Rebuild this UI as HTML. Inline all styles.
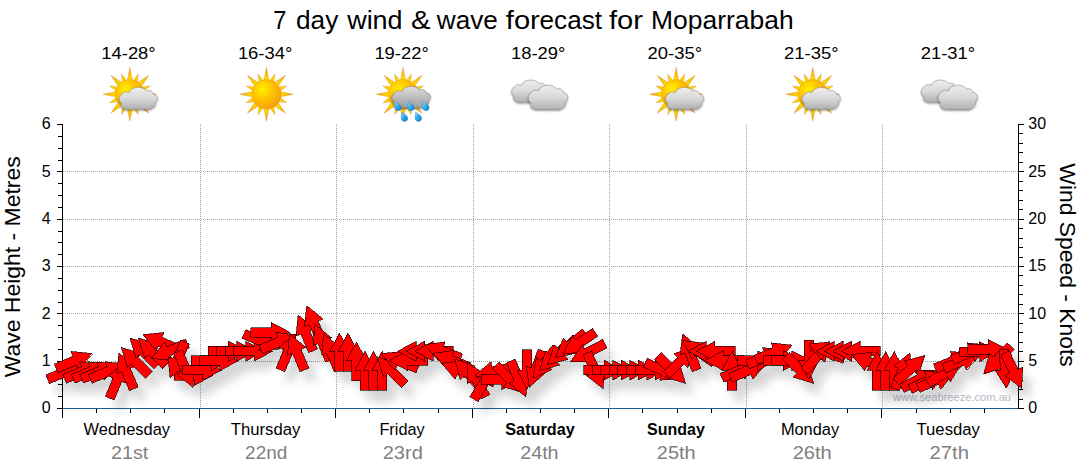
<!DOCTYPE html>
<html><head><meta charset="utf-8"><title>7 day wind &amp; wave forecast for Moparrabah</title>
<style>html,body{margin:0;padding:0;background:#fff;}body{width:1080px;height:475px;overflow:hidden;font-family:"Liberation Sans",sans-serif;}svg{display:block;position:absolute;left:0;top:0;}text{font-family:"Liberation Sans",sans-serif;}</style>
</head><body>
<svg width="1080" height="475" viewBox="0 0 1080 475">
<defs>
<radialGradient id="sunG" cx="0.36" cy="0.33" r="0.75"><stop offset="0" stop-color="#fff000"/><stop offset="0.45" stop-color="#ffc400"/><stop offset="1" stop-color="#f59a12"/></radialGradient>
<radialGradient id="rayG" gradientUnits="userSpaceOnUse" cx="0" cy="0" r="27"><stop offset="0.5" stop-color="#ffdc00"/><stop offset="0.75" stop-color="#fcc20a"/><stop offset="1" stop-color="#ef9a1a"/></radialGradient>
<linearGradient id="cloudG" x1="0" y1="0" x2="0" y2="1"><stop offset="0" stop-color="#eeeeee"/><stop offset="0.5" stop-color="#d9d9d9"/><stop offset="1" stop-color="#b0b0b0"/></linearGradient>
<linearGradient id="cloudD" x1="0" y1="0" x2="0" y2="1"><stop offset="0" stop-color="#dedede"/><stop offset="0.5" stop-color="#bebebe"/><stop offset="1" stop-color="#9a9a9a"/></linearGradient>
<linearGradient id="dropG" x1="0" y1="0" x2="1" y2="1"><stop offset="0" stop-color="#9fe0ff"/><stop offset="0.5" stop-color="#2fa8ea"/><stop offset="1" stop-color="#0a78c8"/></linearGradient>
<filter id="ash" x="-5%" y="-30%" width="110%" height="200%"><feGaussianBlur in="SourceAlpha" stdDeviation="5"/><feOffset dx="8" dy="11" result="b"/><feComponentTransfer><feFuncA type="linear" slope="0.17"/></feComponentTransfer><feMerge><feMergeNode/><feMergeNode in="SourceGraphic"/></feMerge></filter>
<filter id="ish" x="-20%" y="-20%" width="140%" height="150%"><feGaussianBlur in="SourceAlpha" stdDeviation="0.9"/><feOffset dx="0.4" dy="0.9"/><feComponentTransfer><feFuncA type="linear" slope="0.45"/></feComponentTransfer><feMerge><feMergeNode/><feMergeNode in="SourceGraphic"/></feMerge></filter>

<g id="sun"><path d="M-2.74,-13.52L0.00,-26.90L2.74,-13.52ZM3.05,-13.46L8.42,-20.33L7.36,-11.67ZM7.62,-11.50L19.02,-19.02L11.50,-7.62ZM11.67,-7.36L20.33,-8.42L13.46,-3.05ZM13.52,-2.74L26.90,0.00L13.52,2.74ZM13.46,3.05L20.33,8.42L11.67,7.36ZM11.50,7.62L19.02,19.02L7.62,11.50ZM7.36,11.67L8.42,20.33L3.05,13.46ZM2.74,13.52L0.00,26.90L-2.74,13.52ZM-3.05,13.46L-8.42,20.33L-7.36,11.67ZM-7.62,11.50L-19.02,19.02L-11.50,7.62ZM-11.67,7.36L-20.33,8.42L-13.46,3.05ZM-13.52,2.74L-26.90,0.00L-13.52,-2.74ZM-13.46,-3.05L-20.33,-8.42L-11.67,-7.36ZM-11.50,-7.62L-19.02,-19.02L-7.62,-11.50ZM-7.36,-11.67L-8.42,-20.33L-3.05,-13.46Z" fill="url(#rayG)" stroke="#c98a1c" stroke-width="0.4" stroke-opacity="0.75"/><circle cx="0" cy="0" r="14.7" fill="url(#sunG)" stroke="#e08d10" stroke-width="0.5" stroke-opacity="0.6"/></g>
<path id="cloud" d="M9,0 C4,0 1.2,-3.2 2.6,-7 C-0.6,-8.6 -0.8,-14.6 3.6,-17.2 C5.2,-19.6 8.4,-19.8 10.4,-18.4 C12.6,-25.6 24.6,-26.2 28.4,-20.4 C31.6,-21.6 34.8,-19.6 35.4,-16.8 C39.6,-16.6 41.2,-10.8 37.6,-8 C38.4,-4.2 35,-0.4 30.4,0 Z"/>
<path id="drop" d="M-2.6,-3.9 C-0.4,-3 2.9,-0.6 2.9,1.6 C2.9,3.4 1.5,4.3 0,4.3 C-1.7,4.3 -3,3 -3,1.4 C-3,-0.2 -2.9,-2.2 -2.6,-3.9 Z"/>
</defs>
<rect x="0" y="0" width="1080" height="475" fill="#ffffff"/>
<text x="273.3" y="29" font-size="25.4" text-anchor="start" fill="#000" font-weight="normal" textLength="13.2" lengthAdjust="spacingAndGlyphs">7</text>
<text x="296" y="29" font-size="25.4" text-anchor="start" fill="#000" font-weight="normal" textLength="42.3" lengthAdjust="spacingAndGlyphs">day</text>
<text x="347.2" y="29" font-size="25.4" text-anchor="start" fill="#000" font-weight="normal" textLength="55.4" lengthAdjust="spacingAndGlyphs">wind</text>
<text x="410.9" y="29" font-size="25.4" text-anchor="start" fill="#000" font-weight="normal" textLength="19.6" lengthAdjust="spacingAndGlyphs">&amp;</text>
<text x="436.8" y="29" font-size="25.4" text-anchor="start" fill="#000" font-weight="normal" textLength="61" lengthAdjust="spacingAndGlyphs">wave</text>
<text x="505.8" y="29" font-size="25.4" text-anchor="start" fill="#000" font-weight="normal" textLength="34" lengthAdjust="spacingAndGlyphs">for</text>
<text x="539.6" y="29" font-size="25.4" text-anchor="start" fill="#000" font-weight="normal" textLength="62.4" lengthAdjust="spacingAndGlyphs">ecast</text>
<text x="609" y="29" font-size="25.4" text-anchor="start" fill="#000" font-weight="normal" textLength="34" lengthAdjust="spacingAndGlyphs">for</text>
<text x="651" y="29" font-size="25.4" text-anchor="start" fill="#000" font-weight="normal" textLength="142.6" lengthAdjust="spacingAndGlyphs">Moparrabah</text>
<text x="128.5" y="59" font-size="17.4" text-anchor="middle" fill="#000" font-weight="normal" textLength="54.4" lengthAdjust="spacingAndGlyphs">14-28°</text>
<g transform="translate(129.89,94.3)">
<use href="#sun"/>
<g filter="url(#ish)"><use href="#cloud" transform="translate(-11.0,14.9) scale(0.975,0.895)" fill="url(#cloudG)" stroke="#858585" stroke-width="0.6" stroke-opacity="0.85"/></g>
</g>
<text x="265.1" y="59" font-size="17.4" text-anchor="middle" fill="#000" font-weight="normal" textLength="54.4" lengthAdjust="spacingAndGlyphs">16-34°</text>
<g transform="translate(266.46,94.3)">
<use href="#sun"/>
</g>
<text x="401.6" y="59" font-size="17.4" text-anchor="middle" fill="#000" font-weight="normal" textLength="54.4" lengthAdjust="spacingAndGlyphs">19-22°</text>
<g transform="translate(403.03,94.3)">
<use href="#sun"/>
<g filter="url(#ish)"><use href="#cloud" transform="translate(-11.4,13.5) scale(0.98,0.88)" fill="url(#cloudD)" stroke="#787878" stroke-width="0.6" stroke-opacity="0.85"/></g>
<use href="#drop" transform="translate(-5.0,11.7) scale(1.12)" fill="url(#dropG)" stroke="#0b5fa8" stroke-width="0.4" stroke-opacity="0.6"/>
<use href="#drop" transform="translate(8.0,11.7) scale(1.12)" fill="url(#dropG)" stroke="#0b5fa8" stroke-width="0.4" stroke-opacity="0.6"/>
<use href="#drop" transform="translate(22.9,11.7) scale(1.12)" fill="url(#dropG)" stroke="#0b5fa8" stroke-width="0.4" stroke-opacity="0.6"/>
<use href="#drop" transform="translate(1.5,22.3) scale(1.12)" fill="url(#dropG)" stroke="#0b5fa8" stroke-width="0.4" stroke-opacity="0.6"/>
<use href="#drop" transform="translate(15.4,22.3) scale(1.12)" fill="url(#dropG)" stroke="#0b5fa8" stroke-width="0.4" stroke-opacity="0.6"/>
</g>
<text x="538.2" y="59" font-size="17.4" text-anchor="middle" fill="#000" font-weight="normal" textLength="54.4" lengthAdjust="spacingAndGlyphs">18-29°</text>
<g transform="translate(539.60,94.3)">
<g filter="url(#ish)"><use href="#cloud" transform="translate(-28.2,8) scale(0.97,0.915)" fill="url(#cloudG)" stroke="#858585" stroke-width="0.6" stroke-opacity="0.85"/></g>
<g filter="url(#ish)"><use href="#cloud" x="-11.5" y="15.2" fill="url(#cloudG)" stroke="#858585" stroke-width="0.6" stroke-opacity="0.85"/></g>
</g>
<text x="674.8" y="59" font-size="17.4" text-anchor="middle" fill="#000" font-weight="normal" textLength="54.4" lengthAdjust="spacingAndGlyphs">20-35°</text>
<g transform="translate(676.17,94.3)">
<use href="#sun"/>
<g filter="url(#ish)"><use href="#cloud" transform="translate(-11.0,14.9) scale(0.975,0.895)" fill="url(#cloudG)" stroke="#858585" stroke-width="0.6" stroke-opacity="0.85"/></g>
</g>
<text x="811.3" y="59" font-size="17.4" text-anchor="middle" fill="#000" font-weight="normal" textLength="54.4" lengthAdjust="spacingAndGlyphs">21-35°</text>
<g transform="translate(812.74,94.3)">
<use href="#sun"/>
<g filter="url(#ish)"><use href="#cloud" transform="translate(-11.0,14.9) scale(0.975,0.895)" fill="url(#cloudG)" stroke="#858585" stroke-width="0.6" stroke-opacity="0.85"/></g>
</g>
<text x="947.9" y="59" font-size="17.4" text-anchor="middle" fill="#000" font-weight="normal" textLength="54.4" lengthAdjust="spacingAndGlyphs">21-31°</text>
<g transform="translate(949.31,94.3)">
<g filter="url(#ish)"><use href="#cloud" transform="translate(-28.2,8) scale(0.97,0.915)" fill="url(#cloudG)" stroke="#858585" stroke-width="0.6" stroke-opacity="0.85"/></g>
<g filter="url(#ish)"><use href="#cloud" x="-11.5" y="15.2" fill="url(#cloudG)" stroke="#858585" stroke-width="0.6" stroke-opacity="0.85"/></g>
</g>
<path d="M63,361.5H1018M63,313.5H1018M63,266.5H1018M63,219.5H1018M63,171.5H1018M200.5,124V408M336.5,124V408M473.5,124V408M609.5,124V408M746.5,124V408M882.5,124V408" stroke="#a2a2a2" stroke-width="1" stroke-dasharray="1,1" fill="none" shape-rendering="crispEdges"/>
<text x="893" y="401.1" font-size="11" text-anchor="start" fill="#b9b9c6" font-weight="normal" textLength="118" lengthAdjust="spacingAndGlyphs">www.seabreeze.com.au</text>
<path d="M63,408.5H1018" stroke="#1f5f8f" stroke-width="1.2" fill="none"/>
<path d="M62.5,124V418M1018.5,124V409M57,408.5H63M58,396.5H63M58,384.5H63M58,373.5H63M57,361.5H63M58,349.5H63M58,337.5H63M58,325.5H63M57,313.5H63M58,302.5H63M58,290.5H63M58,278.5H63M57,266.5H63M58,254.5H63M58,242.5H63M58,231.5H63M57,219.5H63M58,207.5H63M58,195.5H63M58,183.5H63M57,171.5H63M58,160.5H63M58,148.5H63M58,136.5H63M57,124.5H63M1018,408.5H1024M1018,399.5H1023M1018,389.5H1023M1018,380.5H1023M1018,370.5H1023M1018,361.5H1024M1018,351.5H1023M1018,342.5H1023M1018,332.5H1023M1018,323.5H1023M1018,313.5H1024M1018,304.5H1023M1018,294.5H1023M1018,285.5H1023M1018,275.5H1023M1018,266.5H1024M1018,257.5H1023M1018,247.5H1023M1018,238.5H1023M1018,228.5H1023M1018,219.5H1024M1018,209.5H1023M1018,200.5H1023M1018,190.5H1023M1018,181.5H1023M1018,171.5H1024M1018,162.5H1023M1018,152.5H1023M1018,143.5H1023M1018,133.5H1023M1018,124.5H1024M96.5,409V413M130.5,409V413M164.5,409V413M199.5,409V418M233.5,409V413M267.5,409V413M301.5,409V413M335.5,409V418M369.5,409V413M403.5,409V413M438.5,409V413M472.5,409V418M506.5,409V413M540.5,409V413M574.5,409V413M608.5,409V418M642.5,409V413M677.5,409V413M711.5,409V413M745.5,409V418M779.5,409V413M813.5,409V413M847.5,409V413M881.5,409V418M916.5,409V413M950.5,409V413M984.5,409V413" stroke="#000" stroke-width="1" fill="none" shape-rendering="crispEdges"/>
<g filter="url(#ash)">
<path transform="translate(66.27,371.55) rotate(67.5)" d="M0,-18.7L10,0L4.75,0L4.75,20.2L-4.75,20.2L-4.75,0L-10,0Z" fill="#ff0000" stroke="#000" stroke-width="0.6" stroke-linejoin="miter" shape-rendering="crispEdges"/>
<path transform="translate(74.80,360.67) rotate(67.5)" d="M0,-18.7L10,0L4.75,0L4.75,20.2L-4.75,20.2L-4.75,0L-10,0Z" fill="#ff0000" stroke="#000" stroke-width="0.6" stroke-linejoin="miter" shape-rendering="crispEdges"/>
<path transform="translate(83.34,371.08) rotate(67.5)" d="M0,-18.7L10,0L4.75,0L4.75,20.2L-4.75,20.2L-4.75,0L-10,0Z" fill="#ff0000" stroke="#000" stroke-width="0.6" stroke-linejoin="miter" shape-rendering="crispEdges"/>
<path transform="translate(91.88,371.08) rotate(67.5)" d="M0,-18.7L10,0L4.75,0L4.75,20.2L-4.75,20.2L-4.75,0L-10,0Z" fill="#ff0000" stroke="#000" stroke-width="0.6" stroke-linejoin="miter" shape-rendering="crispEdges"/>
<path transform="translate(100.41,371.08) rotate(67.5)" d="M0,-18.7L10,0L4.75,0L4.75,20.2L-4.75,20.2L-4.75,0L-10,0Z" fill="#ff0000" stroke="#000" stroke-width="0.6" stroke-linejoin="miter" shape-rendering="crispEdges"/>
<path transform="translate(108.95,371.08) rotate(67.5)" d="M0,-18.7L10,0L4.75,0L4.75,20.2L-4.75,20.2L-4.75,0L-10,0Z" fill="#ff0000" stroke="#000" stroke-width="0.6" stroke-linejoin="miter" shape-rendering="crispEdges"/>
<path transform="translate(117.48,379.60) rotate(22.5)" d="M0,-18.7L10,0L4.75,0L4.75,20.2L-4.75,20.2L-4.75,0L-10,0Z" fill="#ff0000" stroke="#000" stroke-width="0.6" stroke-linejoin="miter" shape-rendering="crispEdges"/>
<path transform="translate(126.02,370.13) rotate(337.5)" d="M0,-18.7L10,0L4.75,0L4.75,20.2L-4.75,20.2L-4.75,0L-10,0Z" fill="#ff0000" stroke="#000" stroke-width="0.6" stroke-linejoin="miter" shape-rendering="crispEdges"/>
<path transform="translate(134.55,360.67) rotate(315.0)" d="M0,-18.7L10,0L4.75,0L4.75,20.2L-4.75,20.2L-4.75,0L-10,0Z" fill="#ff0000" stroke="#000" stroke-width="0.6" stroke-linejoin="miter" shape-rendering="crispEdges"/>
<path transform="translate(143.09,351.20) rotate(315.0)" d="M0,-18.7L10,0L4.75,0L4.75,20.2L-4.75,20.2L-4.75,0L-10,0Z" fill="#ff0000" stroke="#000" stroke-width="0.6" stroke-linejoin="miter" shape-rendering="crispEdges"/>
<path transform="translate(151.62,351.20) rotate(315.0)" d="M0,-18.7L10,0L4.75,0L4.75,20.2L-4.75,20.2L-4.75,0L-10,0Z" fill="#ff0000" stroke="#000" stroke-width="0.6" stroke-linejoin="miter" shape-rendering="crispEdges"/>
<path transform="translate(160.16,341.73) rotate(292.5)" d="M0,-18.7L10,0L4.75,0L4.75,20.2L-4.75,20.2L-4.75,0L-10,0Z" fill="#ff0000" stroke="#000" stroke-width="0.6" stroke-linejoin="miter" shape-rendering="crispEdges"/>
<path transform="translate(168.70,351.20) rotate(247.5)" d="M0,-18.7L10,0L4.75,0L4.75,20.2L-4.75,20.2L-4.75,0L-10,0Z" fill="#ff0000" stroke="#000" stroke-width="0.6" stroke-linejoin="miter" shape-rendering="crispEdges"/>
<path transform="translate(194.30,375.43) rotate(90.0)" d="M0,-18.7L10,0L4.75,0L4.75,20.2L-4.75,20.2L-4.75,0L-10,0Z" fill="#ff0000" stroke="#000" stroke-width="0.6" stroke-linejoin="miter" shape-rendering="crispEdges"/>
<path transform="translate(177.23,360.67) rotate(202.5)" d="M0,-18.7L10,0L4.75,0L4.75,20.2L-4.75,20.2L-4.75,0L-10,0Z" fill="#ff0000" stroke="#000" stroke-width="0.6" stroke-linejoin="miter" shape-rendering="crispEdges"/>
<path transform="translate(185.77,370.13) rotate(157.5)" d="M0,-18.7L10,0L4.75,0L4.75,20.2L-4.75,20.2L-4.75,0L-10,0Z" fill="#ff0000" stroke="#000" stroke-width="0.6" stroke-linejoin="miter" shape-rendering="crispEdges"/>
<path transform="translate(202.84,370.13) rotate(90.0)" d="M0,-18.7L10,0L4.75,0L4.75,20.2L-4.75,20.2L-4.75,0L-10,0Z" fill="#ff0000" stroke="#000" stroke-width="0.6" stroke-linejoin="miter" shape-rendering="crispEdges"/>
<path transform="translate(211.38,360.67) rotate(90.0)" d="M0,-18.7L10,0L4.75,0L4.75,20.2L-4.75,20.2L-4.75,0L-10,0Z" fill="#ff0000" stroke="#000" stroke-width="0.6" stroke-linejoin="miter" shape-rendering="crispEdges"/>
<path transform="translate(219.91,360.67) rotate(90.0)" d="M0,-18.7L10,0L4.75,0L4.75,20.2L-4.75,20.2L-4.75,0L-10,0Z" fill="#ff0000" stroke="#000" stroke-width="0.6" stroke-linejoin="miter" shape-rendering="crispEdges"/>
<path transform="translate(228.45,351.20) rotate(90.0)" d="M0,-18.7L10,0L4.75,0L4.75,20.2L-4.75,20.2L-4.75,0L-10,0Z" fill="#ff0000" stroke="#000" stroke-width="0.6" stroke-linejoin="miter" shape-rendering="crispEdges"/>
<path transform="translate(236.98,351.20) rotate(90.0)" d="M0,-18.7L10,0L4.75,0L4.75,20.2L-4.75,20.2L-4.75,0L-10,0Z" fill="#ff0000" stroke="#000" stroke-width="0.6" stroke-linejoin="miter" shape-rendering="crispEdges"/>
<path transform="translate(245.52,351.20) rotate(90.0)" d="M0,-18.7L10,0L4.75,0L4.75,20.2L-4.75,20.2L-4.75,0L-10,0Z" fill="#ff0000" stroke="#000" stroke-width="0.6" stroke-linejoin="miter" shape-rendering="crispEdges"/>
<path transform="translate(254.05,351.20) rotate(90.0)" d="M0,-18.7L10,0L4.75,0L4.75,20.2L-4.75,20.2L-4.75,0L-10,0Z" fill="#ff0000" stroke="#000" stroke-width="0.6" stroke-linejoin="miter" shape-rendering="crispEdges"/>
<path transform="translate(262.59,341.73) rotate(112.5)" d="M0,-18.7L10,0L4.75,0L4.75,20.2L-4.75,20.2L-4.75,0L-10,0Z" fill="#ff0000" stroke="#000" stroke-width="0.6" stroke-linejoin="miter" shape-rendering="crispEdges"/>
<path transform="translate(271.12,332.27) rotate(90.0)" d="M0,-18.7L10,0L4.75,0L4.75,20.2L-4.75,20.2L-4.75,0L-10,0Z" fill="#ff0000" stroke="#000" stroke-width="0.6" stroke-linejoin="miter" shape-rendering="crispEdges"/>
<path transform="translate(279.66,341.73) rotate(67.5)" d="M0,-18.7L10,0L4.75,0L4.75,20.2L-4.75,20.2L-4.75,0L-10,0Z" fill="#ff0000" stroke="#000" stroke-width="0.6" stroke-linejoin="miter" shape-rendering="crispEdges"/>
<path transform="translate(288.20,351.20) rotate(22.5)" d="M0,-18.7L10,0L4.75,0L4.75,20.2L-4.75,20.2L-4.75,0L-10,0Z" fill="#ff0000" stroke="#000" stroke-width="0.6" stroke-linejoin="miter" shape-rendering="crispEdges"/>
<path transform="translate(296.73,351.20) rotate(337.5)" d="M0,-18.7L10,0L4.75,0L4.75,20.2L-4.75,20.2L-4.75,0L-10,0Z" fill="#ff0000" stroke="#000" stroke-width="0.6" stroke-linejoin="miter" shape-rendering="crispEdges"/>
<path transform="translate(305.27,332.27) rotate(337.5)" d="M0,-18.7L10,0L4.75,0L4.75,20.2L-4.75,20.2L-4.75,0L-10,0Z" fill="#ff0000" stroke="#000" stroke-width="0.6" stroke-linejoin="miter" shape-rendering="crispEdges"/>
<path transform="translate(313.80,322.80) rotate(337.5)" d="M0,-18.7L10,0L4.75,0L4.75,20.2L-4.75,20.2L-4.75,0L-10,0Z" fill="#ff0000" stroke="#000" stroke-width="0.6" stroke-linejoin="miter" shape-rendering="crispEdges"/>
<path transform="translate(322.34,341.73) rotate(337.5)" d="M0,-18.7L10,0L4.75,0L4.75,20.2L-4.75,20.2L-4.75,0L-10,0Z" fill="#ff0000" stroke="#000" stroke-width="0.6" stroke-linejoin="miter" shape-rendering="crispEdges"/>
<path transform="translate(330.88,351.20) rotate(337.5)" d="M0,-18.7L10,0L4.75,0L4.75,20.2L-4.75,20.2L-4.75,0L-10,0Z" fill="#ff0000" stroke="#000" stroke-width="0.6" stroke-linejoin="miter" shape-rendering="crispEdges"/>
<path transform="translate(339.41,351.20) rotate(0.0)" d="M0,-18.7L10,0L4.75,0L4.75,20.2L-4.75,20.2L-4.75,0L-10,0Z" fill="#ff0000" stroke="#000" stroke-width="0.6" stroke-linejoin="miter" shape-rendering="crispEdges"/>
<path transform="translate(347.95,351.20) rotate(0.0)" d="M0,-18.7L10,0L4.75,0L4.75,20.2L-4.75,20.2L-4.75,0L-10,0Z" fill="#ff0000" stroke="#000" stroke-width="0.6" stroke-linejoin="miter" shape-rendering="crispEdges"/>
<path transform="translate(356.48,360.67) rotate(0.0)" d="M0,-18.7L10,0L4.75,0L4.75,20.2L-4.75,20.2L-4.75,0L-10,0Z" fill="#ff0000" stroke="#000" stroke-width="0.6" stroke-linejoin="miter" shape-rendering="crispEdges"/>
<path transform="translate(365.02,370.13) rotate(0.0)" d="M0,-18.7L10,0L4.75,0L4.75,20.2L-4.75,20.2L-4.75,0L-10,0Z" fill="#ff0000" stroke="#000" stroke-width="0.6" stroke-linejoin="miter" shape-rendering="crispEdges"/>
<path transform="translate(373.55,370.13) rotate(0.0)" d="M0,-18.7L10,0L4.75,0L4.75,20.2L-4.75,20.2L-4.75,0L-10,0Z" fill="#ff0000" stroke="#000" stroke-width="0.6" stroke-linejoin="miter" shape-rendering="crispEdges"/>
<path transform="translate(382.09,370.13) rotate(0.0)" d="M0,-18.7L10,0L4.75,0L4.75,20.2L-4.75,20.2L-4.75,0L-10,0Z" fill="#ff0000" stroke="#000" stroke-width="0.6" stroke-linejoin="miter" shape-rendering="crispEdges"/>
<path transform="translate(390.62,370.13) rotate(315.0)" d="M0,-18.7L10,0L4.75,0L4.75,20.2L-4.75,20.2L-4.75,0L-10,0Z" fill="#ff0000" stroke="#000" stroke-width="0.6" stroke-linejoin="miter" shape-rendering="crispEdges"/>
<path transform="translate(399.16,360.67) rotate(292.5)" d="M0,-18.7L10,0L4.75,0L4.75,20.2L-4.75,20.2L-4.75,0L-10,0Z" fill="#ff0000" stroke="#000" stroke-width="0.6" stroke-linejoin="miter" shape-rendering="crispEdges"/>
<path transform="translate(407.70,360.67) rotate(270.0)" d="M0,-18.7L10,0L4.75,0L4.75,20.2L-4.75,20.2L-4.75,0L-10,0Z" fill="#ff0000" stroke="#000" stroke-width="0.6" stroke-linejoin="miter" shape-rendering="crispEdges"/>
<path transform="translate(416.23,351.20) rotate(270.0)" d="M0,-18.7L10,0L4.75,0L4.75,20.2L-4.75,20.2L-4.75,0L-10,0Z" fill="#ff0000" stroke="#000" stroke-width="0.6" stroke-linejoin="miter" shape-rendering="crispEdges"/>
<path transform="translate(424.77,351.20) rotate(270.0)" d="M0,-18.7L10,0L4.75,0L4.75,20.2L-4.75,20.2L-4.75,0L-10,0Z" fill="#ff0000" stroke="#000" stroke-width="0.6" stroke-linejoin="miter" shape-rendering="crispEdges"/>
<path transform="translate(433.30,351.20) rotate(270.0)" d="M0,-18.7L10,0L4.75,0L4.75,20.2L-4.75,20.2L-4.75,0L-10,0Z" fill="#ff0000" stroke="#000" stroke-width="0.6" stroke-linejoin="miter" shape-rendering="crispEdges"/>
<path transform="translate(441.84,351.20) rotate(290.0)" d="M0,-18.7L10,0L4.75,0L4.75,20.2L-4.75,20.2L-4.75,0L-10,0Z" fill="#ff0000" stroke="#000" stroke-width="0.6" stroke-linejoin="miter" shape-rendering="crispEdges"/>
<path transform="translate(450.38,359.91) rotate(291.0)" d="M0,-18.7L10,0L4.75,0L4.75,20.2L-4.75,20.2L-4.75,0L-10,0Z" fill="#ff0000" stroke="#000" stroke-width="0.6" stroke-linejoin="miter" shape-rendering="crispEdges"/>
<path transform="translate(458.91,370.13) rotate(291.6)" d="M0,-18.7L10,0L4.75,0L4.75,20.2L-4.75,20.2L-4.75,0L-10,0Z" fill="#ff0000" stroke="#000" stroke-width="0.6" stroke-linejoin="miter" shape-rendering="crispEdges"/>
<path transform="translate(467.45,372.78) rotate(317.6)" d="M0,-18.7L10,0L4.75,0L4.75,20.2L-4.75,20.2L-4.75,0L-10,0Z" fill="#ff0000" stroke="#000" stroke-width="0.6" stroke-linejoin="miter" shape-rendering="crispEdges"/>
<path transform="translate(475.98,378.84) rotate(332.2)" d="M0,-18.7L10,0L4.75,0L4.75,20.2L-4.75,20.2L-4.75,0L-10,0Z" fill="#ff0000" stroke="#000" stroke-width="0.6" stroke-linejoin="miter" shape-rendering="crispEdges"/>
<path transform="translate(484.52,381.97) rotate(31.6)" d="M0,-18.7L10,0L4.75,0L4.75,20.2L-4.75,20.2L-4.75,0L-10,0Z" fill="#ff0000" stroke="#000" stroke-width="0.6" stroke-linejoin="miter" shape-rendering="crispEdges"/>
<path transform="translate(493.05,371.55) rotate(257.6)" d="M0,-18.7L10,0L4.75,0L4.75,20.2L-4.75,20.2L-4.75,0L-10,0Z" fill="#ff0000" stroke="#000" stroke-width="0.6" stroke-linejoin="miter" shape-rendering="crispEdges"/>
<path transform="translate(501.59,379.60) rotate(90.0)" d="M0,-18.7L10,0L4.75,0L4.75,20.2L-4.75,20.2L-4.75,0L-10,0Z" fill="#ff0000" stroke="#000" stroke-width="0.6" stroke-linejoin="miter" shape-rendering="crispEdges"/>
<path transform="translate(510.12,379.60) rotate(135.0)" d="M0,-18.7L10,0L4.75,0L4.75,20.2L-4.75,20.2L-4.75,0L-10,0Z" fill="#ff0000" stroke="#000" stroke-width="0.6" stroke-linejoin="miter" shape-rendering="crispEdges"/>
<path transform="translate(518.66,379.60) rotate(157.5)" d="M0,-18.7L10,0L4.75,0L4.75,20.2L-4.75,20.2L-4.75,0L-10,0Z" fill="#ff0000" stroke="#000" stroke-width="0.6" stroke-linejoin="miter" shape-rendering="crispEdges"/>
<path transform="translate(527.20,370.13) rotate(180.0)" d="M0,-18.7L10,0L4.75,0L4.75,20.2L-4.75,20.2L-4.75,0L-10,0Z" fill="#ff0000" stroke="#000" stroke-width="0.6" stroke-linejoin="miter" shape-rendering="crispEdges"/>
<path transform="translate(535.73,369.75) rotate(200.0)" d="M0,-18.7L10,0L4.75,0L4.75,20.2L-4.75,20.2L-4.75,0L-10,0Z" fill="#ff0000" stroke="#000" stroke-width="0.6" stroke-linejoin="miter" shape-rendering="crispEdges"/>
<path transform="translate(544.27,363.51) rotate(218.0)" d="M0,-18.7L10,0L4.75,0L4.75,20.2L-4.75,20.2L-4.75,0L-10,0Z" fill="#ff0000" stroke="#000" stroke-width="0.6" stroke-linejoin="miter" shape-rendering="crispEdges"/>
<path transform="translate(552.80,357.83) rotate(226.0)" d="M0,-18.7L10,0L4.75,0L4.75,20.2L-4.75,20.2L-4.75,0L-10,0Z" fill="#ff0000" stroke="#000" stroke-width="0.6" stroke-linejoin="miter" shape-rendering="crispEdges"/>
<path transform="translate(561.34,352.15) rotate(228.0)" d="M0,-18.7L10,0L4.75,0L4.75,20.2L-4.75,20.2L-4.75,0L-10,0Z" fill="#ff0000" stroke="#000" stroke-width="0.6" stroke-linejoin="miter" shape-rendering="crispEdges"/>
<path transform="translate(569.88,345.52) rotate(230.0)" d="M0,-18.7L10,0L4.75,0L4.75,20.2L-4.75,20.2L-4.75,0L-10,0Z" fill="#ff0000" stroke="#000" stroke-width="0.6" stroke-linejoin="miter" shape-rendering="crispEdges"/>
<path transform="translate(578.41,343.63) rotate(236.0)" d="M0,-18.7L10,0L4.75,0L4.75,20.2L-4.75,20.2L-4.75,0L-10,0Z" fill="#ff0000" stroke="#000" stroke-width="0.6" stroke-linejoin="miter" shape-rendering="crispEdges"/>
<path transform="translate(586.95,353.09) rotate(242.0)" d="M0,-18.7L10,0L4.75,0L4.75,20.2L-4.75,20.2L-4.75,0L-10,0Z" fill="#ff0000" stroke="#000" stroke-width="0.6" stroke-linejoin="miter" shape-rendering="crispEdges"/>
<path transform="translate(595.48,371.55) rotate(156.0)" d="M0,-18.7L10,0L4.75,0L4.75,20.2L-4.75,20.2L-4.75,0L-10,0Z" fill="#ff0000" stroke="#000" stroke-width="0.6" stroke-linejoin="miter" shape-rendering="crispEdges"/>
<path transform="translate(604.02,370.13) rotate(90.0)" d="M0,-18.7L10,0L4.75,0L4.75,20.2L-4.75,20.2L-4.75,0L-10,0Z" fill="#ff0000" stroke="#000" stroke-width="0.6" stroke-linejoin="miter" shape-rendering="crispEdges"/>
<path transform="translate(612.55,370.13) rotate(90.0)" d="M0,-18.7L10,0L4.75,0L4.75,20.2L-4.75,20.2L-4.75,0L-10,0Z" fill="#ff0000" stroke="#000" stroke-width="0.6" stroke-linejoin="miter" shape-rendering="crispEdges"/>
<path transform="translate(621.09,370.13) rotate(90.0)" d="M0,-18.7L10,0L4.75,0L4.75,20.2L-4.75,20.2L-4.75,0L-10,0Z" fill="#ff0000" stroke="#000" stroke-width="0.6" stroke-linejoin="miter" shape-rendering="crispEdges"/>
<path transform="translate(629.62,370.13) rotate(90.0)" d="M0,-18.7L10,0L4.75,0L4.75,20.2L-4.75,20.2L-4.75,0L-10,0Z" fill="#ff0000" stroke="#000" stroke-width="0.6" stroke-linejoin="miter" shape-rendering="crispEdges"/>
<path transform="translate(638.16,370.13) rotate(90.0)" d="M0,-18.7L10,0L4.75,0L4.75,20.2L-4.75,20.2L-4.75,0L-10,0Z" fill="#ff0000" stroke="#000" stroke-width="0.6" stroke-linejoin="miter" shape-rendering="crispEdges"/>
<path transform="translate(646.70,370.13) rotate(90.0)" d="M0,-18.7L10,0L4.75,0L4.75,20.2L-4.75,20.2L-4.75,0L-10,0Z" fill="#ff0000" stroke="#000" stroke-width="0.6" stroke-linejoin="miter" shape-rendering="crispEdges"/>
<path transform="translate(655.23,370.13) rotate(90.0)" d="M0,-18.7L10,0L4.75,0L4.75,20.2L-4.75,20.2L-4.75,0L-10,0Z" fill="#ff0000" stroke="#000" stroke-width="0.6" stroke-linejoin="miter" shape-rendering="crispEdges"/>
<path transform="translate(663.77,371.08) rotate(114.5)" d="M0,-18.7L10,0L4.75,0L4.75,20.2L-4.75,20.2L-4.75,0L-10,0Z" fill="#ff0000" stroke="#000" stroke-width="0.6" stroke-linejoin="miter" shape-rendering="crispEdges"/>
<path transform="translate(672.30,370.13) rotate(135.0)" d="M0,-18.7L10,0L4.75,0L4.75,20.2L-4.75,20.2L-4.75,0L-10,0Z" fill="#ff0000" stroke="#000" stroke-width="0.6" stroke-linejoin="miter" shape-rendering="crispEdges"/>
<path transform="translate(680.84,360.67) rotate(45.0)" d="M0,-18.7L10,0L4.75,0L4.75,20.2L-4.75,20.2L-4.75,0L-10,0Z" fill="#ff0000" stroke="#000" stroke-width="0.6" stroke-linejoin="miter" shape-rendering="crispEdges"/>
<path transform="translate(689.38,351.20) rotate(339.0)" d="M0,-18.7L10,0L4.75,0L4.75,20.2L-4.75,20.2L-4.75,0L-10,0Z" fill="#ff0000" stroke="#000" stroke-width="0.6" stroke-linejoin="miter" shape-rendering="crispEdges"/>
<path transform="translate(697.91,351.20) rotate(305.0)" d="M0,-18.7L10,0L4.75,0L4.75,20.2L-4.75,20.2L-4.75,0L-10,0Z" fill="#ff0000" stroke="#000" stroke-width="0.6" stroke-linejoin="miter" shape-rendering="crispEdges"/>
<path transform="translate(706.45,351.20) rotate(270.0)" d="M0,-18.7L10,0L4.75,0L4.75,20.2L-4.75,20.2L-4.75,0L-10,0Z" fill="#ff0000" stroke="#000" stroke-width="0.6" stroke-linejoin="miter" shape-rendering="crispEdges"/>
<path transform="translate(714.98,351.20) rotate(270.0)" d="M0,-18.7L10,0L4.75,0L4.75,20.2L-4.75,20.2L-4.75,0L-10,0Z" fill="#ff0000" stroke="#000" stroke-width="0.6" stroke-linejoin="miter" shape-rendering="crispEdges"/>
<path transform="translate(723.52,360.67) rotate(270.0)" d="M0,-18.7L10,0L4.75,0L4.75,20.2L-4.75,20.2L-4.75,0L-10,0Z" fill="#ff0000" stroke="#000" stroke-width="0.6" stroke-linejoin="miter" shape-rendering="crispEdges"/>
<path transform="translate(732.05,370.13) rotate(0.0)" d="M0,-18.7L10,0L4.75,0L4.75,20.2L-4.75,20.2L-4.75,0L-10,0Z" fill="#ff0000" stroke="#000" stroke-width="0.6" stroke-linejoin="miter" shape-rendering="crispEdges"/>
<path transform="translate(740.59,370.13) rotate(67.5)" d="M0,-18.7L10,0L4.75,0L4.75,20.2L-4.75,20.2L-4.75,0L-10,0Z" fill="#ff0000" stroke="#000" stroke-width="0.6" stroke-linejoin="miter" shape-rendering="crispEdges"/>
<path transform="translate(749.12,370.13) rotate(67.5)" d="M0,-18.7L10,0L4.75,0L4.75,20.2L-4.75,20.2L-4.75,0L-10,0Z" fill="#ff0000" stroke="#000" stroke-width="0.6" stroke-linejoin="miter" shape-rendering="crispEdges"/>
<path transform="translate(757.66,360.67) rotate(90.0)" d="M0,-18.7L10,0L4.75,0L4.75,20.2L-4.75,20.2L-4.75,0L-10,0Z" fill="#ff0000" stroke="#000" stroke-width="0.6" stroke-linejoin="miter" shape-rendering="crispEdges"/>
<path transform="translate(766.20,356.88) rotate(68.0)" d="M0,-18.7L10,0L4.75,0L4.75,20.2L-4.75,20.2L-4.75,0L-10,0Z" fill="#ff0000" stroke="#000" stroke-width="0.6" stroke-linejoin="miter" shape-rendering="crispEdges"/>
<path transform="translate(774.73,352.15) rotate(68.0)" d="M0,-18.7L10,0L4.75,0L4.75,20.2L-4.75,20.2L-4.75,0L-10,0Z" fill="#ff0000" stroke="#000" stroke-width="0.6" stroke-linejoin="miter" shape-rendering="crispEdges"/>
<path transform="translate(783.27,360.67) rotate(90.0)" d="M0,-18.7L10,0L4.75,0L4.75,20.2L-4.75,20.2L-4.75,0L-10,0Z" fill="#ff0000" stroke="#000" stroke-width="0.6" stroke-linejoin="miter" shape-rendering="crispEdges"/>
<path transform="translate(791.80,360.67) rotate(90.0)" d="M0,-18.7L10,0L4.75,0L4.75,20.2L-4.75,20.2L-4.75,0L-10,0Z" fill="#ff0000" stroke="#000" stroke-width="0.6" stroke-linejoin="miter" shape-rendering="crispEdges"/>
<path transform="translate(800.34,370.13) rotate(135.0)" d="M0,-18.7L10,0L4.75,0L4.75,20.2L-4.75,20.2L-4.75,0L-10,0Z" fill="#ff0000" stroke="#000" stroke-width="0.6" stroke-linejoin="miter" shape-rendering="crispEdges"/>
<path transform="translate(808.88,360.67) rotate(180.0)" d="M0,-18.7L10,0L4.75,0L4.75,20.2L-4.75,20.2L-4.75,0L-10,0Z" fill="#ff0000" stroke="#000" stroke-width="0.6" stroke-linejoin="miter" shape-rendering="crispEdges"/>
<path transform="translate(817.41,355.93) rotate(40.0)" d="M0,-18.7L10,0L4.75,0L4.75,20.2L-4.75,20.2L-4.75,0L-10,0Z" fill="#ff0000" stroke="#000" stroke-width="0.6" stroke-linejoin="miter" shape-rendering="crispEdges"/>
<path transform="translate(825.95,351.20) rotate(292.5)" d="M0,-18.7L10,0L4.75,0L4.75,20.2L-4.75,20.2L-4.75,0L-10,0Z" fill="#ff0000" stroke="#000" stroke-width="0.6" stroke-linejoin="miter" shape-rendering="crispEdges"/>
<path transform="translate(834.48,351.20) rotate(270.0)" d="M0,-18.7L10,0L4.75,0L4.75,20.2L-4.75,20.2L-4.75,0L-10,0Z" fill="#ff0000" stroke="#000" stroke-width="0.6" stroke-linejoin="miter" shape-rendering="crispEdges"/>
<path transform="translate(843.02,351.20) rotate(270.0)" d="M0,-18.7L10,0L4.75,0L4.75,20.2L-4.75,20.2L-4.75,0L-10,0Z" fill="#ff0000" stroke="#000" stroke-width="0.6" stroke-linejoin="miter" shape-rendering="crispEdges"/>
<path transform="translate(851.55,351.20) rotate(270.0)" d="M0,-18.7L10,0L4.75,0L4.75,20.2L-4.75,20.2L-4.75,0L-10,0Z" fill="#ff0000" stroke="#000" stroke-width="0.6" stroke-linejoin="miter" shape-rendering="crispEdges"/>
<path transform="translate(860.09,351.20) rotate(270.0)" d="M0,-18.7L10,0L4.75,0L4.75,20.2L-4.75,20.2L-4.75,0L-10,0Z" fill="#ff0000" stroke="#000" stroke-width="0.6" stroke-linejoin="miter" shape-rendering="crispEdges"/>
<path transform="translate(868.62,361.61) rotate(292.5)" d="M0,-18.7L10,0L4.75,0L4.75,20.2L-4.75,20.2L-4.75,0L-10,0Z" fill="#ff0000" stroke="#000" stroke-width="0.6" stroke-linejoin="miter" shape-rendering="crispEdges"/>
<path transform="translate(877.16,370.13) rotate(0.0)" d="M0,-18.7L10,0L4.75,0L4.75,20.2L-4.75,20.2L-4.75,0L-10,0Z" fill="#ff0000" stroke="#000" stroke-width="0.6" stroke-linejoin="miter" shape-rendering="crispEdges"/>
<path transform="translate(885.70,370.13) rotate(0.0)" d="M0,-18.7L10,0L4.75,0L4.75,20.2L-4.75,20.2L-4.75,0L-10,0Z" fill="#ff0000" stroke="#000" stroke-width="0.6" stroke-linejoin="miter" shape-rendering="crispEdges"/>
<path transform="translate(894.23,370.13) rotate(0.0)" d="M0,-18.7L10,0L4.75,0L4.75,20.2L-4.75,20.2L-4.75,0L-10,0Z" fill="#ff0000" stroke="#000" stroke-width="0.6" stroke-linejoin="miter" shape-rendering="crispEdges"/>
<path transform="translate(902.77,370.13) rotate(22.5)" d="M0,-18.7L10,0L4.75,0L4.75,20.2L-4.75,20.2L-4.75,0L-10,0Z" fill="#ff0000" stroke="#000" stroke-width="0.6" stroke-linejoin="miter" shape-rendering="crispEdges"/>
<path transform="translate(911.30,368.24) rotate(47.0)" d="M0,-18.7L10,0L4.75,0L4.75,20.2L-4.75,20.2L-4.75,0L-10,0Z" fill="#ff0000" stroke="#000" stroke-width="0.6" stroke-linejoin="miter" shape-rendering="crispEdges"/>
<path transform="translate(919.84,379.03) rotate(63.0)" d="M0,-18.7L10,0L4.75,0L4.75,20.2L-4.75,20.2L-4.75,0L-10,0Z" fill="#ff0000" stroke="#000" stroke-width="0.6" stroke-linejoin="miter" shape-rendering="crispEdges"/>
<path transform="translate(928.38,380.55) rotate(65.0)" d="M0,-18.7L10,0L4.75,0L4.75,20.2L-4.75,20.2L-4.75,0L-10,0Z" fill="#ff0000" stroke="#000" stroke-width="0.6" stroke-linejoin="miter" shape-rendering="crispEdges"/>
<path transform="translate(936.91,380.07) rotate(67.5)" d="M0,-18.7L10,0L4.75,0L4.75,20.2L-4.75,20.2L-4.75,0L-10,0Z" fill="#ff0000" stroke="#000" stroke-width="0.6" stroke-linejoin="miter" shape-rendering="crispEdges"/>
<path transform="translate(945.45,372.97) rotate(60.0)" d="M0,-18.7L10,0L4.75,0L4.75,20.2L-4.75,20.2L-4.75,0L-10,0Z" fill="#ff0000" stroke="#000" stroke-width="0.6" stroke-linejoin="miter" shape-rendering="crispEdges"/>
<path transform="translate(953.98,360.67) rotate(67.5)" d="M0,-18.7L10,0L4.75,0L4.75,20.2L-4.75,20.2L-4.75,0L-10,0Z" fill="#ff0000" stroke="#000" stroke-width="0.6" stroke-linejoin="miter" shape-rendering="crispEdges"/>
<path transform="translate(962.52,360.67) rotate(67.5)" d="M0,-18.7L10,0L4.75,0L4.75,20.2L-4.75,20.2L-4.75,0L-10,0Z" fill="#ff0000" stroke="#000" stroke-width="0.6" stroke-linejoin="miter" shape-rendering="crispEdges"/>
<path transform="translate(971.05,352.15) rotate(67.5)" d="M0,-18.7L10,0L4.75,0L4.75,20.2L-4.75,20.2L-4.75,0L-10,0Z" fill="#ff0000" stroke="#000" stroke-width="0.6" stroke-linejoin="miter" shape-rendering="crispEdges"/>
<path transform="translate(979.59,351.58) rotate(88.0)" d="M0,-18.7L10,0L4.75,0L4.75,20.2L-4.75,20.2L-4.75,0L-10,0Z" fill="#ff0000" stroke="#000" stroke-width="0.6" stroke-linejoin="miter" shape-rendering="crispEdges"/>
<path transform="translate(988.12,349.31) rotate(90.0)" d="M0,-18.7L10,0L4.75,0L4.75,20.2L-4.75,20.2L-4.75,0L-10,0Z" fill="#ff0000" stroke="#000" stroke-width="0.6" stroke-linejoin="miter" shape-rendering="crispEdges"/>
<path transform="translate(996.66,360.67) rotate(224.0)" d="M0,-18.7L10,0L4.75,0L4.75,20.2L-4.75,20.2L-4.75,0L-10,0Z" fill="#ff0000" stroke="#000" stroke-width="0.6" stroke-linejoin="miter" shape-rendering="crispEdges"/>
<path transform="translate(1005.20,369.66) rotate(176.0)" d="M0,-18.7L10,0L4.75,0L4.75,20.2L-4.75,20.2L-4.75,0L-10,0Z" fill="#ff0000" stroke="#000" stroke-width="0.6" stroke-linejoin="miter" shape-rendering="crispEdges"/>
<path transform="translate(1013.73,371.36) rotate(154.8)" d="M0,-18.7L10,0L4.75,0L4.75,20.2L-4.75,20.2L-4.75,0L-10,0Z" fill="#ff0000" stroke="#000" stroke-width="0.6" stroke-linejoin="miter" shape-rendering="crispEdges"/>
</g>
<text x="50.6" y="413.2" font-size="16" text-anchor="end" fill="#000" font-weight="normal">0</text>
<text x="50.6" y="365.9" font-size="16" text-anchor="end" fill="#000" font-weight="normal">1</text>
<text x="50.6" y="318.5" font-size="16" text-anchor="end" fill="#000" font-weight="normal">2</text>
<text x="50.6" y="271.2" font-size="16" text-anchor="end" fill="#000" font-weight="normal">3</text>
<text x="50.6" y="223.9" font-size="16" text-anchor="end" fill="#000" font-weight="normal">4</text>
<text x="50.6" y="176.5" font-size="16" text-anchor="end" fill="#000" font-weight="normal">5</text>
<text x="50.6" y="129.2" font-size="16" text-anchor="end" fill="#000" font-weight="normal">6</text>
<text x="1028.3" y="413.2" font-size="16" text-anchor="start" fill="#000" font-weight="normal">0</text>
<text x="1028.3" y="365.9" font-size="16" text-anchor="start" fill="#000" font-weight="normal">5</text>
<text x="1028.3" y="318.5" font-size="16" text-anchor="start" fill="#000" font-weight="normal">10</text>
<text x="1028.3" y="271.2" font-size="16" text-anchor="start" fill="#000" font-weight="normal">15</text>
<text x="1028.3" y="223.9" font-size="16" text-anchor="start" fill="#000" font-weight="normal">20</text>
<text x="1028.3" y="176.5" font-size="16" text-anchor="start" fill="#000" font-weight="normal">25</text>
<text x="1028.3" y="129.2" font-size="16" text-anchor="start" fill="#000" font-weight="normal">30</text>
<text transform="translate(20.3,266.8) rotate(-90)" font-size="22.7" text-anchor="middle" fill="#000" textLength="221" lengthAdjust="spacingAndGlyphs">Wave Height - Metres</text>
<text transform="translate(1059.6,265) rotate(90)" font-size="22.7" text-anchor="middle" fill="#000" textLength="203.4" lengthAdjust="spacingAndGlyphs">Wind Speed - Knots</text>
<text x="126.8" y="435" font-size="16.3" text-anchor="middle" fill="#000" font-weight="normal" textLength="86.4" lengthAdjust="spacingAndGlyphs">Wednesday</text>
<text x="129.7" y="459" font-size="18.2" text-anchor="middle" fill="#7f7f7f" font-weight="normal" textLength="37.3" lengthAdjust="spacingAndGlyphs">21st</text>
<text x="265.6" y="435" font-size="16.3" text-anchor="middle" fill="#000" font-weight="normal" textLength="69.5" lengthAdjust="spacingAndGlyphs">Thursday</text>
<text x="266.2" y="459" font-size="18.2" text-anchor="middle" fill="#7f7f7f" font-weight="normal" textLength="42.2" lengthAdjust="spacingAndGlyphs">22nd</text>
<text x="402.1" y="435" font-size="16.3" text-anchor="middle" fill="#000" font-weight="normal" textLength="45.4" lengthAdjust="spacingAndGlyphs">Friday</text>
<text x="402.8" y="459" font-size="18.2" text-anchor="middle" fill="#7f7f7f" font-weight="normal" textLength="40.2" lengthAdjust="spacingAndGlyphs">23rd</text>
<text x="540.0" y="435" font-size="16.3" text-anchor="middle" fill="#000" font-weight="bold" textLength="69.4" lengthAdjust="spacingAndGlyphs">Saturday</text>
<text x="539.4" y="459" font-size="18.2" text-anchor="middle" fill="#7f7f7f" font-weight="normal" textLength="38.4" lengthAdjust="spacingAndGlyphs">24th</text>
<text x="675.9" y="435" font-size="16.3" text-anchor="middle" fill="#000" font-weight="bold" textLength="57.8" lengthAdjust="spacingAndGlyphs">Sunday</text>
<text x="676.2" y="459" font-size="18.2" text-anchor="middle" fill="#7f7f7f" font-weight="normal" textLength="38.8" lengthAdjust="spacingAndGlyphs">25th</text>
<text x="810.0" y="435" font-size="16.3" text-anchor="middle" fill="#000" font-weight="normal" textLength="58.2" lengthAdjust="spacingAndGlyphs">Monday</text>
<text x="812.2" y="459" font-size="18.2" text-anchor="middle" fill="#7f7f7f" font-weight="normal" textLength="39" lengthAdjust="spacingAndGlyphs">26th</text>
<text x="948.2" y="435" font-size="16.3" text-anchor="middle" fill="#000" font-weight="normal" textLength="63.4" lengthAdjust="spacingAndGlyphs">Tuesday</text>
<text x="949.2" y="459" font-size="18.2" text-anchor="middle" fill="#7f7f7f" font-weight="normal" textLength="39.5" lengthAdjust="spacingAndGlyphs">27th</text>
</svg></body></html>
